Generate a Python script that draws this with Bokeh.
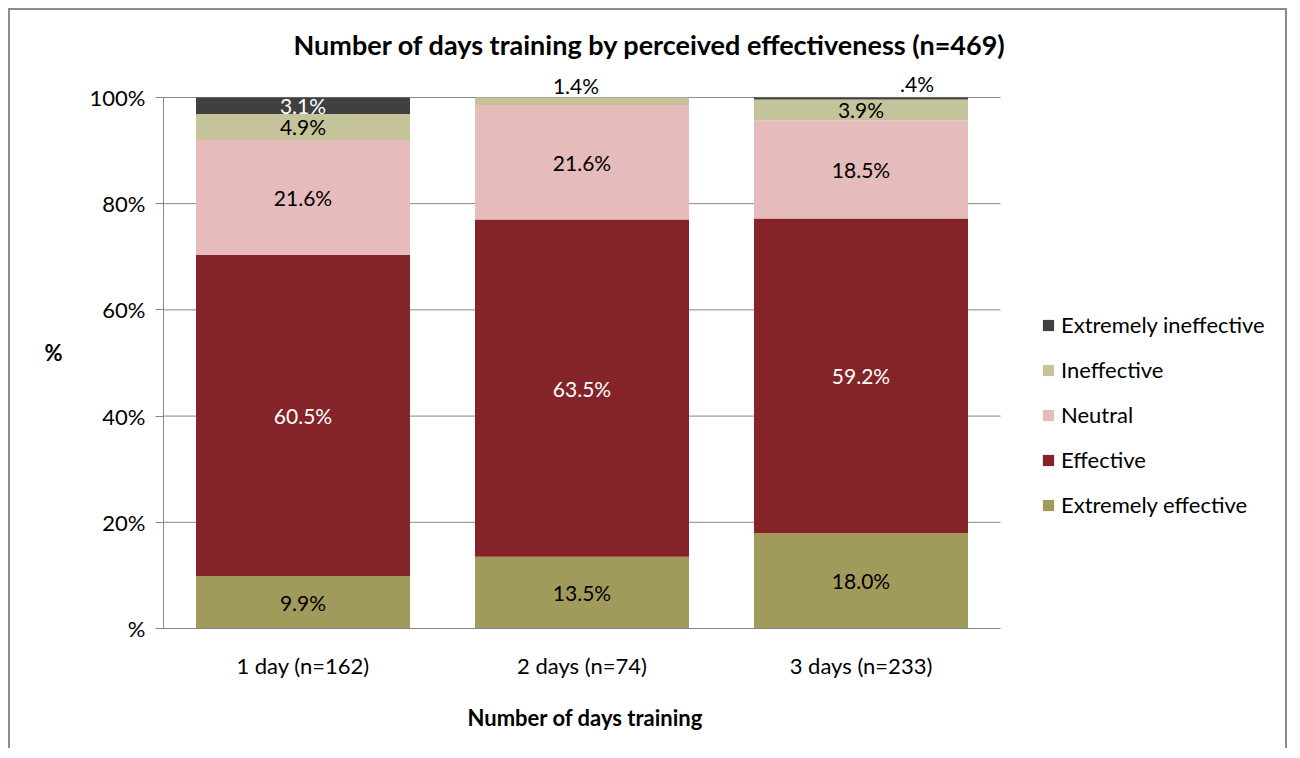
from bokeh.plotting import figure
from bokeh.models import (ColumnDataSource, FixedTicker, Range1d, Legend, LegendItem,
                          LabelSet, Title)
from bokeh.core.properties import value
from bokeh.embed import file_html
from bokeh.resources import INLINE

# ---- data ----
categories = ["1 day (n=162)", "2 days (n=74)", "3 days (n=233)"]
series = ["Extremely effective", "Effective", "Neutral", "Ineffective", "Extremely ineffective"]
extremely_effective = [9.9, 13.5, 18.0]
effective = [60.5, 63.5, 59.2]
neutral = [21.6, 21.6, 18.5]
ineffective = [4.9, 1.4, 3.9]
extremely_ineffective = [3.1, 0.0, 0.4]
y_ticks = [0, 20, 40, 60, 80, 100]
y_tick_labels = ["%", "20%", "40%", "60%", "80%", "100%"]

colors = ["#A19B5B", "#852428", "#E6BBBC", "#C4C39A", "#404040"]
label_colors = ["black", "white", "black", "black", "white"]
FONT = "Lato"
GRID = "#868686"

values = [extremely_effective, effective, neutral, ineffective, extremely_ineffective]
n = len(categories)
xs = [i + 0.5 for i in range(n)]

data = {"x": xs}
for name, vals in zip(series, values):
    data[name] = vals
source = ColumnDataSource(data)

# plot area: 279 px per category, 5.32 px per percent; frame extends right to hold legend
p = figure(width=1279, height=740, output_backend="svg", toolbar_location=None,
           x_range=Range1d(0, 1126 / 279), y_range=Range1d(0, 554 / 5.32),
           min_border_left=153, min_border_right=0, min_border_top=64,
           min_border_bottom=122, background_fill_color="white",
           border_fill_color="white", outline_line_color=None)
p.styles = {"margin-left": "8px", "margin-top": "8px",
            "border-top": "2px solid #8c8c8c", "border-left": "2px solid #8c8c8c",
            "border-right": "2px solid #8c8c8c"}

# horizontal gridlines across the category area only
p.segment(x0=0, x1=n, y0=y_ticks, y1=y_ticks, line_color=GRID, line_width=1)

renderers = p.vbar_stack(series, x="x", width=0.767, color=colors, line_color=None,
                         source=source)

# ---- data labels ----
lx, ly, lt, lc, xoff, yoff = [], [], [], [], [], []
outside_shift = [0, -6, 56]
outside_lift = [12, 12, 14]
for ci in range(n):
    cum = 0.0
    for si, vals in enumerate(values):
        v = vals[ci]
        if v > 0:
            txt = f"{v:.1f}%"
            if txt.startswith("0."):
                txt = txt[1:]
            if v < 2:
                lx.append(xs[ci]); ly.append(100.0)
                xoff.append(outside_shift[ci]); yoff.append(outside_lift[ci])
                lc.append("black")
            else:
                lx.append(xs[ci]); ly.append(cum + v / 2)
                xoff.append(0); yoff.append(0)
                lc.append(label_colors[si])
            lt.append(txt)
        cum += v
lsrc = ColumnDataSource(dict(x=lx, y=ly, text=lt, color=lc, xo=xoff, yo=yoff))
labels = LabelSet(x="x", y="y", text="text", source=lsrc, text_color="color",
                  x_offset="xo", y_offset="yo", text_align="center",
                  text_baseline="middle", text_font=value(FONT), text_font_size="21px")
p.add_layout(labels)

# ---- axes ----
p.grid.grid_line_color = None

p.yaxis.ticker = FixedTicker(ticks=y_ticks)
p.yaxis.bounds = (0, 100)
p.yaxis.major_label_overrides = {t: l for t, l in zip(y_ticks, y_tick_labels)}
p.yaxis.major_tick_out = 8
p.yaxis.major_tick_in = 0
p.yaxis.major_label_standoff = 10
p.yaxis.axis_label = "%"
p.yaxis.axis_label_orientation = "horizontal"
p.yaxis.axis_label_standoff = 24

p.xaxis.ticker = FixedTicker(ticks=xs, minor_ticks=list(range(n + 1)))
p.xaxis.bounds = (0, n)
p.xaxis.major_label_overrides = {x: c for x, c in zip(xs, categories)}
p.xaxis.major_tick_out = 0
p.xaxis.major_tick_in = 0
p.xaxis.minor_tick_out = 8
p.xaxis.minor_tick_in = 0
p.xaxis.major_label_standoff = 15

for ax in (p.xaxis, p.yaxis):
    ax.axis_line_color = GRID
    ax.major_tick_line_color = GRID
    ax.minor_tick_line_color = GRID if ax is p.xaxis else None
    ax.major_label_text_font = FONT
    ax.major_label_text_font_size = "22px"
    ax.major_label_text_color = "black"
    ax.axis_label_text_font = FONT
    ax.axis_label_text_font_size = "22px"
    ax.axis_label_text_font_style = "bold"
    ax.axis_label_text_color = "black"

# x-axis title, centred under the three categories
xtitle = Title(text="Number of days training", align="left", offset=304,
               vertical_align="bottom",
               text_font=FONT, text_font_size="22px", text_font_style="bold",
               text_color="black", standoff=40)
p.add_layout(xtitle, "below")

# ---- title ----
p.title.text = "Number of days training by perceived effectiveness (n=469)"
p.title.align = "left"
p.title.offset = 130
p.title.text_font = FONT
p.title.text_font_size = "27px"
p.title.text_font_style = "bold"
p.title.text_color = "black"
p.title.standoff = 30

# ---- legend ----
items = [LegendItem(label=s, renderers=[r]) for s, r in zip(series, renderers)][::-1]
legend = Legend(items=items, location=(878, 110), orientation="vertical",
                glyph_width=14, glyph_height=14, label_standoff=6,
                label_text_font=FONT, label_text_font_size="22px",
                label_text_color="black",
                label_height=24, spacing=18, padding=0, margin=0,
                border_line_color=None, background_fill_alpha=0)
p.add_layout(legend, "center")

open("out.html", "w").write(file_html(p, INLINE))
